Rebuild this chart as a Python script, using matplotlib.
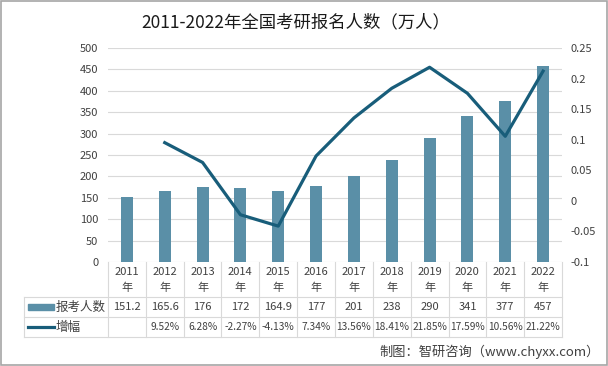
import matplotlib
matplotlib.use("Agg")
from matplotlib import pyplot as plt
from matplotlib.patches import Rectangle
from matplotlib.lines import Line2D
import numpy as np

plt.rcParams['font.family'] = ['Noto Sans CJK SC', 'DejaVu Sans']

years = ["2011", "2012", "2013", "2014", "2015", "2016", "2017", "2018", "2019", "2020", "2021", "2022"]
applicants = [151.2, 165.6, 176, 172, 164.9, 177, 201, 238, 290, 341, 377, 457]
growth = [None, 0.0952, 0.0628, -0.0227, -0.0413, 0.0734, 0.1356, 0.1841, 0.2185, 0.1759, 0.1056, 0.2122]

bar_color = "#5a8fa7"
line_color = "#185d7a"
grid_color = "#d9d9d9"
text_color = "#404040"

W, H = 608, 366
fig = plt.figure(figsize=(6.08, 3.66), dpi=100)

# 绘图区（像素 -> 图坐标）
left, right, top, bottom = 108, 562, 48, 262
ax = fig.add_axes([left / W, 1 - bottom / H, (right - left) / W, (bottom - top) / H])
n = len(years)
x = np.arange(n)
ax.bar(x, applicants, width=0.32, color=bar_color, zorder=3)
ax.set_xlim(-0.5, n - 0.5)
ax.set_ylim(0, 500)
ax.set_yticks(np.arange(0, 501, 50))
ax.yaxis.grid(True, color=grid_color, linewidth=0.8, zorder=0)
ax.set_xticks([])
for s in ax.spines.values():
    s.set_visible(False)
ax.tick_params(axis='y', length=0, labelsize=8, labelcolor=text_color, pad=7)

ax2 = ax.twinx()
gx = [i for i, g in enumerate(growth) if g is not None]
gy = [g for g in growth if g is not None]
ax2.plot(gx, gy, color=line_color, linewidth=2.3, zorder=4)
ax2.set_ylim(-0.1, 0.25)
ax2.set_yticks([-0.1, -0.05, 0, 0.05, 0.1, 0.15, 0.2, 0.25])
ax2.set_yticklabels(["-0.1", "-0.05", "0", "0.05", "0.1", "0.15", "0.2", "0.25"])
for s in ax2.spines.values():
    s.set_visible(False)
ax2.tick_params(axis='y', length=0, labelsize=8, labelcolor=text_color, pad=6)

# 数据表
def px(xp, yp):
    return xp / W, 1 - yp / H

col_w = (right - left) / n
tbl_left = 24
row_top, row_mid, row_bot = 297, 317, 337
lkw = dict(color=grid_color, linewidth=0.8, transform=fig.transFigure)
for i in range(n + 1):
    xx = left + i * col_w
    fig.add_artist(Line2D([xx / W] * 2, [1 - bottom / H, 1 - row_bot / H], **lkw))
fig.add_artist(Line2D([tbl_left / W] * 2, [1 - row_top / H, 1 - row_bot / H], **lkw))
for yy in (row_top, row_mid, row_bot):
    fig.add_artist(Line2D([tbl_left / W, right / W], [1 - yy / H] * 2, **lkw))

for i in range(n):
    cx = left + (i + 0.5) * col_w
    fig.text(*px(cx, 272), years[i], ha='center', va='center', fontsize=8, color=text_color)
    fig.text(*px(cx, 288), "年", ha='center', va='center', fontsize=8, color=text_color)
    fig.text(*px(cx, 307), "%g" % applicants[i], ha='center', va='center', fontsize=8, color=text_color)
    if growth[i] is not None:
        fig.text(*px(cx, 327), "%.2f%%" % (growth[i] * 100), ha='center', va='center', fontsize=7.3, color=text_color)

fig.add_artist(Rectangle(px(28, 310), 26 / W, 6 / H, color=bar_color, transform=fig.transFigure))
fig.add_artist(Line2D([28 / W, 54 / W], [1 - 327 / H] * 2, color=line_color, linewidth=2.3, transform=fig.transFigure))
fig.text(*px(56, 307), "报考人数", ha='left', va='center', fontsize=9, color=text_color)
fig.text(*px(56, 327), "增幅", ha='left', va='center', fontsize=9, color=text_color)

fig.text(*px(296, 22), "2011-2022年全国考研报名人数（万人）", ha='center', va='center', fontsize=12.5, color="#1a1a1a")
fig.text(*px(600, 352), "制图：智研咨询（www.chyxx.com）", ha='right', va='center', fontsize=9.5, color=text_color)

fig.add_artist(Rectangle((0.001, 0.002), 0.997, 0.995, fill=False, edgecolor="#a6a6a6", linewidth=1.2, transform=fig.transFigure))

fig.savefig("out.png", dpi=100)
